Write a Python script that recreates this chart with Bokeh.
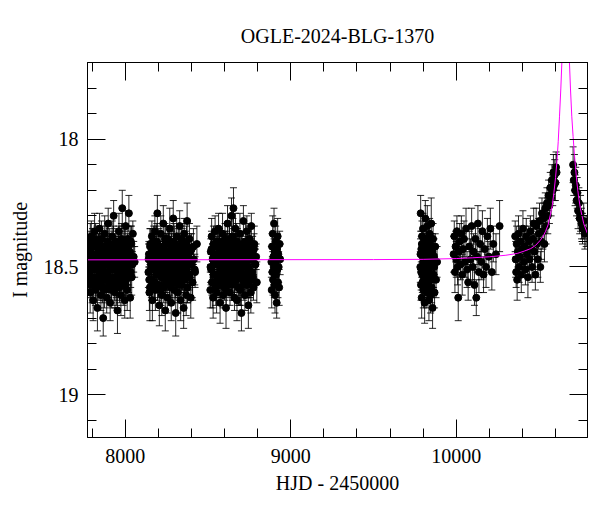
from bokeh.plotting import figure
from bokeh.models import (Range1d, LinearAxis, ColumnDataSource, Whisker, TeeHead,
                          SingleIntervalTicker, CustomJSTickFormatter)
from bokeh.embed import file_html
from bokeh.resources import INLINE

TITLE = "OGLE-2024-BLG-1370"
XLABEL = "HJD - 2450000"
YLABEL = "I magnitude"

# ---- season 1 ----
s1_hjd = [7777, 7779, 7782, 7786, 7788, 7791, 7795, 7797, 7800, 7803,
          7806, 7809, 7811, 7815, 7818, 7820, 7824, 7827, 7829, 7832,
          7836, 7838, 7841, 7845, 7847, 7850, 7853, 7856, 7859, 7862,
          7865, 7867, 7871, 7874, 7876, 7880, 7883, 7885, 7888, 7892,
          7894, 7897, 7901, 7903, 7906, 7909, 7912, 7915, 7918, 7921,
          7924, 7926, 7930, 7933, 7935, 7938, 7942, 7944, 7947, 7950,
          7953, 7956, 7959, 7962, 7965, 7968, 7970, 7974, 7977, 7979,
          7982, 7986, 7988, 7991, 7994, 7997, 8000, 8003, 8006, 8009,
          8012, 8015, 8018, 8022, 8026, 8030, 8034, 8039, 8046, 8057,
          7780, 7784, 7789, 7793, 7798, 7802, 7807, 7812, 7816, 7821,
          7825, 7830, 7834, 7839, 7843, 7848, 7852, 7857, 7861, 7866,
          7870, 7875, 7879, 7884, 7889, 7893, 7898, 7902, 7907, 7911,
          7916, 7920, 7925, 7929, 7934, 7939, 7943, 7948, 7952, 7957,
          7961, 7966, 7971, 7975, 7980, 7984, 7989, 7993, 7998, 8002,
          8007, 8011, 8016, 8020, 8025, 8029, 8033, 8037, 8043, 8051]
s1_mag = [18.47, 18.55, 18.41, 18.52, 18.60, 18.44, 18.38, 18.50, 18.57, 18.46,
          18.63, 18.42, 18.49, 18.36, 18.54, 18.59, 18.45, 18.51, 18.40, 18.66,
          18.48, 18.43, 18.56, 18.35, 18.53, 18.47, 18.61, 18.39, 18.50, 18.58,
          18.44, 18.70, 18.46, 18.52, 18.37, 18.55, 18.49, 18.42, 18.62, 18.45,
          18.53, 18.33, 18.57, 18.48, 18.41, 18.64, 18.50, 18.44, 18.59, 18.38,
          18.51, 18.47, 18.30, 18.56, 18.43, 18.60, 18.49, 18.40, 18.54, 18.46,
          18.67, 18.42, 18.52, 18.36, 18.58, 18.48, 18.44, 18.61, 18.39, 18.53,
          18.27, 18.50, 18.57, 18.45, 18.41, 18.63, 18.49, 18.34, 18.55, 18.47,
          18.59, 18.43, 18.52, 18.29, 18.46, 18.62, 18.40, 18.54, 18.37, 18.48,
          18.44, 18.53, 18.40, 18.57, 18.48, 18.42, 18.55, 18.46, 18.51, 18.39,
          18.58, 18.45, 18.50, 18.43, 18.54, 18.41, 18.56, 18.47, 18.52, 18.44,
          18.49, 18.59, 18.42, 18.53, 18.46, 18.40, 18.55, 18.48, 18.51, 18.43,
          18.57, 18.45, 18.50, 18.41, 18.54, 18.47, 18.44, 18.58, 18.49, 18.52,
          18.40, 18.56, 18.46, 18.53, 18.43, 18.50, 18.55, 18.42, 18.48, 18.57,
          18.45, 18.51, 18.39, 18.54, 18.47, 18.44, 18.52, 18.41, 18.49, 18.46]
s1_err = [0.05, 0.06, 0.05, 0.07, 0.08, 0.05, 0.06, 0.05, 0.07, 0.06,
          0.08, 0.05, 0.06, 0.07, 0.05, 0.06, 0.05, 0.07, 0.06, 0.09,
          0.05, 0.06, 0.07, 0.06, 0.05, 0.08, 0.06, 0.07, 0.05, 0.06,
          0.07, 0.07, 0.05, 0.06, 0.07, 0.05, 0.06, 0.08, 0.06, 0.05,
          0.07, 0.06, 0.05, 0.08, 0.06, 0.07, 0.05, 0.06, 0.07, 0.06,
          0.05, 0.08, 0.06, 0.07, 0.05, 0.06, 0.07, 0.05, 0.08, 0.06,
          0.09, 0.05, 0.06, 0.07, 0.06, 0.05, 0.07, 0.08, 0.06, 0.05,
          0.07, 0.06, 0.08, 0.05, 0.06, 0.07, 0.05, 0.06, 0.07, 0.05,
          0.08, 0.06, 0.05, 0.07, 0.06, 0.08, 0.06, 0.07, 0.05, 0.06,
          0.05, 0.06, 0.07, 0.05, 0.06, 0.07, 0.06, 0.05, 0.07, 0.06,
          0.06, 0.05, 0.07, 0.06, 0.05, 0.07, 0.06, 0.05, 0.06, 0.07,
          0.05, 0.07, 0.06, 0.05, 0.06, 0.07, 0.05, 0.06, 0.07, 0.06,
          0.07, 0.05, 0.06, 0.07, 0.05, 0.06, 0.06, 0.07, 0.05, 0.06,
          0.06, 0.07, 0.05, 0.06, 0.07, 0.05, 0.06, 0.07, 0.06, 0.05,
          0.07, 0.06, 0.05, 0.06, 0.07, 0.05, 0.06, 0.07, 0.05, 0.06]

# ---- season 2 ----
s2_hjd = [8140, 8143, 8146, 8149, 8151, 8155, 8158, 8161, 8164, 8167,
          8170, 8173, 8176, 8179, 8182, 8185, 8188, 8191, 8194, 8197,
          8200, 8203, 8206, 8209, 8212, 8215, 8218, 8221, 8224, 8227,
          8230, 8233, 8236, 8239, 8242, 8245, 8248, 8251, 8254, 8257,
          8260, 8263, 8266, 8269, 8272, 8275, 8278, 8281, 8284, 8287,
          8290, 8293, 8296, 8299, 8302, 8305, 8308, 8311, 8314, 8317,
          8320, 8323, 8326, 8329, 8332, 8335, 8338, 8341, 8344, 8347,
          8350, 8353, 8356, 8359, 8362, 8365, 8368, 8371, 8374, 8377,
          8380, 8384, 8388, 8392, 8396, 8401, 8407, 8414, 8422, 8433,
          8141, 8145, 8150, 8154, 8159, 8163, 8168, 8172, 8177, 8181,
          8186, 8190, 8195, 8199, 8204, 8208, 8213, 8217, 8222, 8226,
          8231, 8235, 8240, 8244, 8249, 8253, 8258, 8262, 8267, 8271,
          8276, 8280, 8285, 8289, 8294, 8298, 8303, 8307, 8312, 8316,
          8321, 8325, 8330, 8334, 8339, 8343, 8348, 8352, 8357, 8361,
          8366, 8370, 8375, 8379, 8386, 8391, 8398, 8405, 8412, 8420]
s2_mag = [18.52, 18.45, 18.60, 18.58, 18.41, 18.49, 18.55, 18.38, 18.63, 18.47,
          18.43, 18.56, 18.50, 18.36, 18.59, 18.44, 18.53, 18.40, 18.29, 18.48,
          18.57, 18.42, 18.65, 18.46, 18.51, 18.37, 18.54, 18.61, 18.45, 18.49,
          18.33, 18.58, 18.43, 18.52, 18.67, 18.40, 18.55, 18.47, 18.62, 18.39,
          18.50, 18.44, 18.57, 18.35, 18.53, 18.48, 18.64, 18.42, 18.56, 18.46,
          18.31, 18.51, 18.59, 18.41, 18.54, 18.68, 18.45, 18.38, 18.52, 18.60,
          18.47, 18.43, 18.56, 18.34, 18.50, 18.63, 18.44, 18.57, 18.40, 18.53,
          18.48, 18.66, 18.37, 18.55, 18.46, 18.42, 18.61, 18.51, 18.32, 18.58,
          18.45, 18.54, 18.39, 18.49, 18.62, 18.43, 18.56, 18.47, 18.52, 18.41,
          18.47, 18.55, 18.42, 18.51, 18.58, 18.44, 18.49, 18.40, 18.56, 18.46,
          18.53, 18.41, 18.57, 18.48, 18.43, 18.52, 18.45, 18.59, 18.50, 18.42,
          18.54, 18.47, 18.39, 18.56, 18.44, 18.51, 18.48, 18.41, 18.55, 18.46,
          18.58, 18.43, 18.50, 18.53, 18.40, 18.47, 18.56, 18.44, 18.52, 18.49,
          18.42, 18.57, 18.45, 18.51, 18.39, 18.54, 18.48, 18.43, 18.55, 18.46,
          18.50, 18.41, 18.58, 18.47, 18.53, 18.44, 18.49, 18.56, 18.42, 18.51]
s2_err = [0.06, 0.05, 0.07, 0.13, 0.06, 0.05, 0.07, 0.06, 0.08, 0.05,
          0.06, 0.07, 0.05, 0.06, 0.08, 0.06, 0.05, 0.07, 0.07, 0.06,
          0.05, 0.07, 0.08, 0.06, 0.05, 0.07, 0.06, 0.08, 0.05, 0.06,
          0.07, 0.06, 0.05, 0.07, 0.08, 0.06, 0.05, 0.07, 0.06, 0.05,
          0.06, 0.07, 0.05, 0.08, 0.06, 0.05, 0.07, 0.06, 0.08, 0.05,
          0.07, 0.06, 0.05, 0.07, 0.06, 0.09, 0.05, 0.07, 0.06, 0.08,
          0.05, 0.06, 0.07, 0.06, 0.05, 0.08, 0.06, 0.07, 0.05, 0.06,
          0.07, 0.08, 0.06, 0.05, 0.07, 0.06, 0.08, 0.05, 0.07, 0.06,
          0.05, 0.07, 0.06, 0.05, 0.08, 0.06, 0.07, 0.05, 0.06, 0.07,
          0.06, 0.05, 0.07, 0.06, 0.05, 0.07, 0.05, 0.06, 0.07, 0.06,
          0.05, 0.07, 0.06, 0.05, 0.06, 0.07, 0.05, 0.06, 0.07, 0.05,
          0.06, 0.07, 0.06, 0.05, 0.07, 0.06, 0.05, 0.07, 0.06, 0.05,
          0.07, 0.06, 0.05, 0.06, 0.07, 0.05, 0.06, 0.07, 0.05, 0.06,
          0.07, 0.05, 0.06, 0.07, 0.06, 0.05, 0.07, 0.06, 0.05, 0.06,
          0.05, 0.07, 0.06, 0.05, 0.06, 0.07, 0.05, 0.06, 0.07, 0.06]

# ---- season 3 ----
s3_hjd = [8514, 8517, 8519, 8522, 8526, 8528, 8531, 8534, 8537, 8540,
          8543, 8546, 8549, 8552, 8555, 8558, 8561, 8564, 8567, 8570,
          8573, 8576, 8579, 8582, 8585, 8588, 8591, 8594, 8597, 8600,
          8603, 8606, 8609, 8612, 8615, 8618, 8621, 8624, 8627, 8630,
          8633, 8636, 8639, 8642, 8645, 8648, 8651, 8654, 8657, 8660,
          8663, 8666, 8669, 8672, 8675, 8678, 8681, 8684, 8687, 8690,
          8693, 8696, 8699, 8702, 8705, 8708, 8711, 8714, 8717, 8720,
          8723, 8726, 8729, 8732, 8735, 8738, 8741, 8744, 8747, 8750,
          8753, 8756, 8759, 8762, 8766, 8770, 8775, 8780, 8787, 8795,
          8515, 8521, 8524, 8529, 8533, 8538, 8542, 8547, 8551, 8556,
          8560, 8565, 8569, 8574, 8578, 8583, 8587, 8592, 8596, 8601,
          8605, 8610, 8614, 8619, 8623, 8628, 8632, 8637, 8641, 8646,
          8650, 8655, 8659, 8664, 8668, 8673, 8677, 8682, 8686, 8691,
          8695, 8700, 8704, 8709, 8713, 8718, 8722, 8727, 8731, 8736,
          8740, 8745, 8749, 8754, 8758, 8764, 8772, 8778, 8784, 8791]
s3_mag = [18.59, 18.44, 18.51, 18.38, 18.56, 18.47, 18.62, 18.42, 18.53, 18.49,
          18.36, 18.58, 18.45, 18.60, 18.40, 18.54, 18.48, 18.35, 18.57, 18.43,
          18.64, 18.50, 18.41, 18.55, 18.46, 18.37, 18.61, 18.52, 18.44, 18.58,
          18.39, 18.49, 18.66, 18.42, 18.54, 18.33, 18.57, 18.47, 18.51, 18.40,
          18.60, 18.45, 18.53, 18.30, 18.56, 18.48, 18.38, 18.27, 18.43, 18.62,
          18.50, 18.35, 18.55, 18.46, 18.63, 18.41, 18.52, 18.58, 18.44, 18.49,
          18.37, 18.59, 18.47, 18.68, 18.42, 18.54, 18.50, 18.32, 18.56, 18.45,
          18.61, 18.40, 18.53, 18.48, 18.36, 18.57, 18.43, 18.65, 18.51, 18.39,
          18.55, 18.46, 18.60, 18.34, 18.52, 18.44, 18.58, 18.41, 18.49, 18.56,
          18.50, 18.43, 18.56, 18.47, 18.41, 18.53, 18.45, 18.58, 18.49, 18.42,
          18.55, 18.46, 18.40, 18.52, 18.57, 18.44, 18.48, 18.54, 18.41, 18.51,
          18.46, 18.59, 18.43, 18.50, 18.55, 18.39, 18.47, 18.53, 18.44, 18.57,
          18.49, 18.42, 18.56, 18.45, 18.52, 18.40, 18.48, 18.54, 18.43, 18.58,
          18.46, 18.51, 18.41, 18.55, 18.47, 18.44, 18.53, 18.49, 18.57, 18.42,
          18.50, 18.45, 18.56, 18.40, 18.52, 18.47, 18.54, 18.43, 18.49, 18.46]
s3_err = [0.07, 0.05, 0.06, 0.07, 0.10, 0.06, 0.08, 0.05, 0.06, 0.07,
          0.06, 0.05, 0.07, 0.08, 0.06, 0.05, 0.07, 0.06, 0.05, 0.07,
          0.08, 0.06, 0.05, 0.07, 0.06, 0.08, 0.05, 0.06, 0.07, 0.05,
          0.06, 0.07, 0.08, 0.05, 0.06, 0.07, 0.05, 0.06, 0.07, 0.06,
          0.05, 0.08, 0.06, 0.07, 0.05, 0.06, 0.07, 0.08, 0.06, 0.05,
          0.07, 0.06, 0.05, 0.07, 0.08, 0.06, 0.05, 0.07, 0.06, 0.05,
          0.08, 0.06, 0.07, 0.07, 0.06, 0.05, 0.08, 0.06, 0.07, 0.05,
          0.06, 0.07, 0.05, 0.08, 0.06, 0.05, 0.07, 0.09, 0.06, 0.05,
          0.07, 0.06, 0.08, 0.05, 0.07, 0.06, 0.05, 0.07, 0.06, 0.08,
          0.06, 0.07, 0.05, 0.06, 0.07, 0.05, 0.06, 0.07, 0.06, 0.05,
          0.07, 0.06, 0.05, 0.06, 0.07, 0.05, 0.06, 0.07, 0.05, 0.06,
          0.05, 0.06, 0.07, 0.05, 0.06, 0.07, 0.06, 0.05, 0.07, 0.06,
          0.06, 0.05, 0.07, 0.06, 0.05, 0.07, 0.06, 0.05, 0.06, 0.07,
          0.07, 0.06, 0.05, 0.07, 0.06, 0.05, 0.06, 0.07, 0.05, 0.06,
          0.05, 0.07, 0.06, 0.05, 0.07, 0.06, 0.05, 0.06, 0.07, 0.05]

# ---- season 4 ----
s4_hjd = [8883, 8885, 8887, 8889, 8891, 8893, 8895, 8897, 8899, 8901,
          8903, 8905, 8907, 8909, 8911, 8913, 8915, 8917, 8919, 8921,
          8923, 8925, 8927, 8930, 8933, 8936]
s4_mag = [18.48, 18.59, 18.42, 18.52, 18.37, 18.55, 18.46, 18.50, 18.33, 18.57,
          18.44, 18.61, 18.49, 18.40, 18.53, 18.47, 18.64, 18.43, 18.51, 18.38,
          18.56, 18.45, 18.50, 18.58, 18.41, 18.47]
s4_err = [0.06, 0.07, 0.05, 0.06, 0.07, 0.06, 0.05, 0.07, 0.06, 0.05,
          0.06, 0.07, 0.05, 0.06, 0.07, 0.05, 0.06, 0.06, 0.05, 0.07,
          0.06, 0.05, 0.06, 0.07, 0.05, 0.06]

# ---- season 5 ----
s5_hjd = [9783, 9785, 9787, 9789, 9791, 9793, 9795, 9797, 9799, 9801,
          9803, 9805, 9807, 9809, 9811, 9813, 9815, 9817, 9819, 9821,
          9823, 9825, 9827, 9829, 9831, 9833, 9835, 9837, 9839, 9841,
          9843, 9845, 9847, 9849, 9851, 9853, 9855, 9857, 9860, 9863,
          9866, 9869, 9873, 9878, 9884,
          9784, 9788, 9792, 9796, 9800, 9804, 9808, 9812, 9816, 9820,
          9824, 9828, 9832, 9836, 9840, 9844, 9848, 9852, 9858, 9867]
s5_mag = [18.50, 18.29, 18.57, 18.43, 18.62, 18.38, 18.53, 18.46, 18.35, 18.59,
          18.48, 18.41, 18.55, 18.64, 18.44, 18.31, 18.51, 18.58, 18.39, 18.47,
          18.60, 18.34, 18.52, 18.45, 18.56, 18.40, 18.63, 18.49, 18.37, 18.54,
          18.42, 18.61, 18.47, 18.33, 18.58, 18.50, 18.44, 18.66, 18.39, 18.53,
          18.46, 18.60, 18.42, 18.55, 18.48,
          18.45, 18.52, 18.41, 18.56, 18.48, 18.43, 18.54, 18.47, 18.50, 18.40,
          18.57, 18.44, 18.51, 18.46, 18.53, 18.42, 18.49, 18.55, 18.45, 18.50]
s5_err = [0.06, 0.07, 0.06, 0.05, 0.08, 0.06, 0.07, 0.05, 0.06, 0.07,
          0.05, 0.06, 0.07, 0.08, 0.06, 0.07, 0.05, 0.06, 0.07, 0.05,
          0.06, 0.08, 0.06, 0.05, 0.07, 0.06, 0.08, 0.05, 0.06, 0.07,
          0.05, 0.07, 0.06, 0.10, 0.06, 0.05, 0.07, 0.08, 0.06, 0.05,
          0.07, 0.06, 0.05, 0.07, 0.06,
          0.06, 0.07, 0.05, 0.06, 0.07, 0.06, 0.05, 0.07, 0.06, 0.05,
          0.07, 0.06, 0.05, 0.06, 0.07, 0.05, 0.06, 0.07, 0.06, 0.05]

# ---- season 6 ----
s6_hjd = [9984, 9988, 9992, 9996, 10000, 10004, 10008, 10012, 10016, 10021,
          10026, 10031, 10036, 10041, 10047, 10053, 10059, 10065, 10072, 10079,
          10086, 10093, 10099, 10105, 10110, 10116, 10121, 10126, 10131, 10137,
          10144, 10151, 10158, 10165, 10172, 10180, 10188, 10197, 10206, 10215,
          10224, 10240, 10262]
s6_mag = [18.45, 18.38, 18.52, 18.42, 18.47, 18.36, 18.50, 18.62, 18.44, 18.40,
          18.49, 18.37, 18.53, 18.43, 18.39, 18.48, 18.35, 18.51, 18.56, 18.42,
          18.47, 18.34, 18.50, 18.44, 18.57, 18.39, 18.62, 18.46, 18.33, 18.52,
          18.41, 18.48, 18.36, 18.53, 18.43, 18.50, 18.38, 18.46, 18.35, 18.52,
          18.41, 18.45, 18.34]
s6_err = [0.07, 0.06, 0.08, 0.06, 0.07, 0.06, 0.07, 0.09, 0.06, 0.07,
          0.06, 0.07, 0.08, 0.06, 0.07, 0.06, 0.08, 0.07, 0.07, 0.06,
          0.08, 0.07, 0.06, 0.07, 0.08, 0.06, 0.07, 0.06, 0.07, 0.08,
          0.06, 0.07, 0.08, 0.07, 0.06, 0.08, 0.07, 0.06, 0.08, 0.07,
          0.07, 0.08, 0.10]

# ---- season 7 ----
s7_hjd = [10356, 10359, 10362, 10365, 10368, 10372, 10376, 10380, 10384, 10389,
          10393, 10398, 10403, 10408, 10413, 10418, 10423, 10428, 10433, 10438,
          10443, 10448, 10453, 10458, 10463, 10468, 10473, 10478, 10483, 10488,
          10493, 10498, 10503, 10508, 10513, 10518, 10523, 10528, 10533, 10538,
          10543, 10548, 10553, 10558, 10563, 10568, 10573, 10578, 10583, 10587,
          10591, 10595, 10599, 10603, 10606]
s7_mag = [18.38, 18.47, 18.52, 18.41, 18.55, 18.44, 18.37, 18.50, 18.46, 18.40,
          18.53, 18.43, 18.35, 18.48, 18.42, 18.51, 18.38, 18.45, 18.54, 18.40,
          18.47, 18.36, 18.43, 18.50, 18.39, 18.33, 18.44, 18.53, 18.34, 18.41,
          18.47, 18.37, 18.32, 18.50, 18.40, 18.29, 18.36, 18.31, 18.41, 18.27,
          18.34, 18.25, 18.30, 18.22, 18.26, 18.19, 18.23, 18.16, 18.20, 18.13,
          18.18, 18.14, 18.17, 18.11, 18.13]
s7_err = [0.06, 0.07, 0.06, 0.07, 0.08, 0.06, 0.07, 0.06, 0.07, 0.06,
          0.07, 0.06, 0.07, 0.06, 0.08, 0.06, 0.07, 0.06, 0.08, 0.06,
          0.07, 0.06, 0.07, 0.06, 0.07, 0.06, 0.07, 0.06, 0.07, 0.06,
          0.07, 0.06, 0.07, 0.06, 0.07, 0.06, 0.07, 0.06, 0.07, 0.06,
          0.07, 0.06, 0.07, 0.06, 0.07, 0.06, 0.07, 0.06, 0.06, 0.07,
          0.06, 0.06, 0.07, 0.06, 0.07]

# ---- season 8 ----
s8_hjd = [10706, 10710, 10714, 10718, 10722, 10727, 10731, 10736, 10741, 10746,
          10751, 10757, 10763, 10770, 10777, 10785]
s8_mag = [18.10, 18.16, 18.13, 18.20, 18.18, 18.24, 18.21, 18.28, 18.25, 18.31,
          18.29, 18.33, 18.35, 18.32, 18.37, 18.36]
s8_err = [0.07, 0.06, 0.07, 0.06, 0.07, 0.06, 0.06, 0.07, 0.06, 0.06,
          0.07, 0.06, 0.06, 0.07, 0.06, 0.06]

# ---- model curve ----
model_hjd = [7772, 9500, 9800, 10000, 10100, 10200, 10300, 10368, 10410, 10450,
             10480, 10507, 10525, 10540, 10555, 10567, 10580, 10590, 10600, 10608,
             10616, 10624, 10632, 10638, 10645, 10652, 10661, 10670, 10677, 10684,
             10690, 10698, 10706, 10714, 10722, 10729, 10740, 10750, 10770, 10793]
model_mag = [18.472, 18.471, 18.470, 18.467, 18.464, 18.460, 18.454, 18.447, 18.438, 18.428,
             18.415, 18.396, 18.38, 18.36, 18.335, 18.30, 18.26, 18.21, 18.15, 18.09,
             18.01, 17.91, 17.80, 17.70, 17.50, 17.30, 17.10, 17.30, 17.50, 17.70,
             17.80, 17.91, 17.99, 18.06, 18.12, 18.17, 18.23, 18.27, 18.33, 18.37]

seasons = [(s1_hjd, s1_mag, s1_err), (s2_hjd, s2_mag, s2_err), (s3_hjd, s3_mag, s3_err),
           (s4_hjd, s4_mag, s4_err), (s5_hjd, s5_mag, s5_err), (s6_hjd, s6_mag, s6_err),
           (s7_hjd, s7_mag, s7_err), (s8_hjd, s8_mag, s8_err)]
xs, ys, ups, los = [], [], [], []
for h, m, e in seasons:
    for a, b, c in zip(h, m, e):
        xs.append(a); ys.append(b); ups.append(b + c); los.append(b - c)
src = ColumnDataSource(dict(x=xs, y=ys, up=ups, lo=los))

FONT = "Liberation Serif"

p = figure(width=592, height=504, output_backend="svg", toolbar_location=None,
           x_range=Range1d(7772, 10793), y_range=Range1d(19.167, 17.70),
           min_border_left=87, min_border_right=5, min_border_top=62, min_border_bottom=67,
           title=TITLE)
p.background_fill_color = "white"
p.border_fill_color = "white"
p.outline_line_color = "black"
p.outline_line_width = 1
p.xgrid.visible = False
p.ygrid.visible = False

p.title.text_font = FONT
p.title.text_font_size = "20px"
p.title.text_font_style = "normal"
p.title.text_color = "black"
p.title.align = "center"
p.title.standoff = 32

xt = SingleIntervalTicker(interval=1000, num_minor_ticks=5)
yt = SingleIntervalTicker(interval=0.5, num_minor_ticks=5)
yfmt = CustomJSTickFormatter(code="return String(Math.round(tick*10)/10);")
blank = CustomJSTickFormatter(code="return '';")

def style(ax):
    ax.axis_line_color = "black"
    ax.major_tick_in = 18
    ax.major_tick_out = 0
    ax.minor_tick_in = 9
    ax.minor_tick_out = 0
    ax.major_tick_line_color = "black"
    ax.minor_tick_line_color = "black"
    ax.major_label_text_font = FONT
    ax.major_label_text_font_size = "20px"
    ax.major_label_text_color = "black"
    ax.axis_label_text_font = FONT
    ax.axis_label_text_font_size = "20px"
    ax.axis_label_text_font_style = "normal"
    ax.axis_label_text_color = "black"

xa = p.xaxis[0]
xa.ticker = xt
style(xa)
xa.axis_label = XLABEL
xa.major_label_standoff = 11
xa.axis_label_standoff = 6

ya = p.yaxis[0]
ya.ticker = yt
ya.formatter = yfmt
style(ya)
ya.axis_label = YLABEL
ya.major_label_standoff = 9
ya.axis_label_standoff = 10

top = LinearAxis(ticker=SingleIntervalTicker(interval=1000, num_minor_ticks=5), formatter=blank)
style(top)
top.major_label_text_font_size = "0px"
top.major_label_standoff = 0
p.add_layout(top, "above")

right = LinearAxis(ticker=SingleIntervalTicker(interval=0.5, num_minor_ticks=5), formatter=blank)
style(right)
right.major_label_text_font_size = "0px"
right.major_label_standoff = 0
p.add_layout(right, "right")

wh = Whisker(base="x", upper="up", lower="lo", source=src, line_color="black", line_width=1,
             line_alpha=0.85,
             upper_head=TeeHead(size=7, line_color="black", line_alpha=0.85),
             lower_head=TeeHead(size=7, line_color="black", line_alpha=0.85))
p.add_layout(wh)
p.scatter("x", "y", source=src, size=7, color="black")
p.line(model_hjd, model_mag, line_color="#ff00ff", line_width=1)

open("out.html", "w").write(file_html(p, INLINE))
